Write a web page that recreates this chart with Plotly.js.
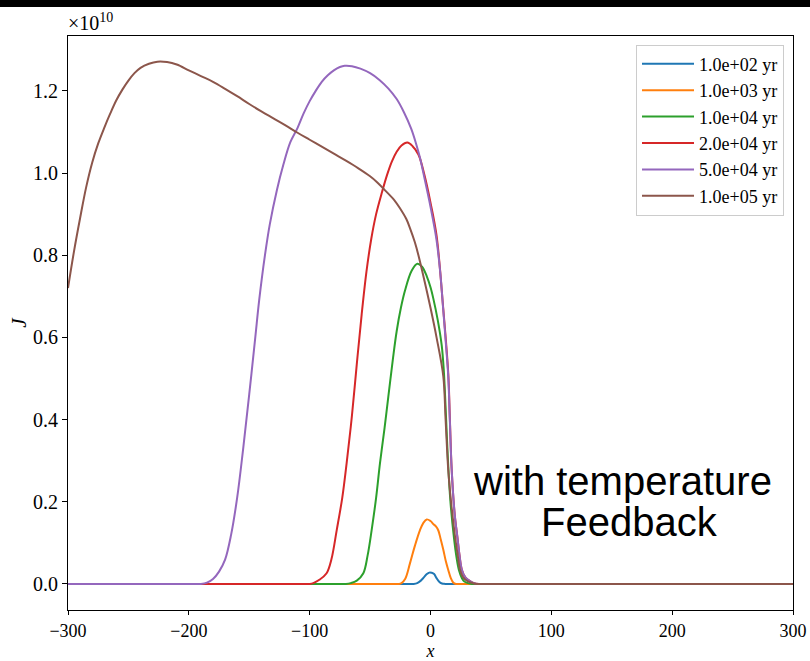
<!DOCTYPE html>
<html>
<head>
<meta charset="utf-8">
<script src="https://cdn.plot.ly/plotly-3.0.1.min.js"></script>
<style>html,body{margin:0;padding:0;background:#fff;}#chart{width:810px;height:661px;}</style>
</head>
<body>
<div id="chart"></div>
<script>
// Series names (legend labels)
const seriesNames = ["1.0e+02 yr", "1.0e+03 yr", "1.0e+04 yr", "2.0e+04 yr", "5.0e+04 yr", "1.0e+05 yr"];
const seriesColors = ["#1f77b4", "#ff7f0e", "#2ca02c", "#d62728", "#9467bd", "#8c564b"];

// J values in units of 1e10
const xBlue = [-300, -100, -30, -14, -11, -8, -5.5, -3, -1, 1, 3, 5, 7, 9.5, 12, 16, 30, 100, 300];
const yBlue = [0, 0, 0, 0, 0.002, 0.008, 0.016, 0.024, 0.0275, 0.027, 0.024, 0.014, 0.006, 0.001, 0, 0, 0, 0, 0];

const xOrange = [-300, -100, -40, -30, -26, -24, -21, -17, -13, -8.7, -6, -3.1, 0, 2.3, 4.5, 6.5, 8.5, 10.6, 12.7, 14.7, 16.8, 18.9, 21, 25, 35, 100, 300];
const yOrange = [0, 0, 0, 0, 0, 0.002, 0.012, 0.05, 0.092, 0.131, 0.148, 0.157, 0.153, 0.146, 0.14, 0.13, 0.108, 0.083, 0.055, 0.034, 0.014, 0.003, 0, 0, 0, 0, 0];

const xGreen = [-300, -150, -85, -75, -70, -66, -61, -55.6, -52, -48.7, -45, -41.8, -38, -34.9, -31, -28, -24.5, -21.1, -15.6, -10.9, -7, -3, 0, 2.3, 6, 9.3, 11, 12.5, 14.3, 16.5, 19.5, 21.5, 23.5, 26, 28, 31, 34, 38, 45, 60, 100, 300];
const yGreen = [0, 0, 0, 0, 0, 0.002, 0.008, 0.026, 0.07, 0.131, 0.21, 0.294, 0.38, 0.456, 0.55, 0.615, 0.672, 0.714, 0.762, 0.779, 0.772, 0.748, 0.722, 0.695, 0.642, 0.58, 0.52, 0.43, 0.31, 0.2, 0.11, 0.065, 0.034, 0.014, 0.006, 0.002, 0, 0, 0, 0, 0, 0];

const xRed = [-300, -200, -120, -105, -100, -97, -92, -86, -82, -77.6, -73, -69.4, -65, -61, -57, -53, -49, -45, -40, -36, -32, -28, -24, -19.2, -15, -10, -5, 0, 5, 10.6, 14.7, 16, 17.5, 20, 22.2, 24, 26, 29, 33, 36, 40, 45, 60, 100, 300];
const yRed = [0, 0, 0, 0, 0, 0.002, 0.01, 0.026, 0.06, 0.131, 0.21, 0.294, 0.41, 0.535, 0.655, 0.76, 0.84, 0.9, 0.955, 0.995, 1.028, 1.052, 1.067, 1.074, 1.066, 1.045, 0.995, 0.928, 0.848, 0.668, 0.512, 0.405, 0.28, 0.17, 0.115, 0.07, 0.034, 0.015, 0.006, 0.002, 0, 0, 0, 0, 0];

const xPurple = [-300, -250, -210, -200, -190, -185, -180, -175, -170, -165, -160, -155, -150, -145, -141.8, -137, -133, -127, -121.8, -116, -110, -105, -100, -95, -90, -85, -80, -75, -71, -65, -58, -50, -42, -35, -28, -22, -16, -12, -8.7, -5.4, 0, 5, 8, 10.6, 13, 14.7, 16, 17.5, 20, 22.2, 24, 26, 29, 33, 36, 40, 45, 60, 100, 300];
const yPurple = [0, 0, 0, 0, 0, 0.003, 0.012, 0.03, 0.059, 0.12, 0.21, 0.33, 0.462, 0.6, 0.69, 0.8, 0.875, 0.96, 1.02, 1.075, 1.11, 1.145, 1.175, 1.2, 1.222, 1.238, 1.25, 1.258, 1.261, 1.26, 1.254, 1.243, 1.226, 1.206, 1.18, 1.148, 1.108, 1.072, 1.037, 0.993, 0.918, 0.837, 0.76, 0.665, 0.575, 0.505, 0.4, 0.28, 0.17, 0.115, 0.07, 0.034, 0.015, 0.006, 0.002, 0, 0, 0, 0, 0];

const xBrown = [-300, -295, -290, -285, -280, -275, -270, -265, -260, -255, -250, -245, -240, -233, -226, -218, -210, -200, -190, -180, -170, -160, -150, -140, -130, -120, -110, -100, -90, -80, -70, -60, -50, -44, -38, -30, -25, -20, -17, -13, -10, -5, 0, 5, 10.6, 12.5, 14.7, 17, 20.3, 22.5, 24.5, 27, 31, 35, 38, 42, 50, 60, 100, 300];
const yBrown = [0.72, 0.81, 0.89, 0.965, 1.025, 1.072, 1.11, 1.145, 1.177, 1.203, 1.225, 1.243, 1.256, 1.266, 1.271, 1.27, 1.264, 1.25, 1.236, 1.222, 1.205, 1.187, 1.168, 1.15, 1.133, 1.116, 1.098, 1.081, 1.064, 1.047, 1.03, 1.012, 0.992, 0.977, 0.959, 0.934, 0.913, 0.888, 0.866, 0.832, 0.8, 0.738, 0.672, 0.6, 0.505, 0.4, 0.277, 0.2, 0.115, 0.07, 0.034, 0.016, 0.006, 0.002, 0, 0, 0, 0, 0, 0];

const xTickVals = [-300, -200, -100, 0, 100, 200, 300];
const xTickText = ["\u2212300", "\u2212200", "\u2212100", "0", "100", "200", "300"];
const yTickVals = [0, 0.2, 0.4, 0.6, 0.8, 1.0, 1.2];
const yTickText = ["0.0", "0.2", "0.4", "0.6", "0.8", "1.0", "1.2"];

const xs = [xBlue, xOrange, xGreen, xRed, xPurple, xBrown];
const ys = [yBlue, yOrange, yGreen, yRed, yPurple, yBrown];

const traces = xs.map((x, i) => ({
  x: x, y: ys[i], type: "scatter", mode: "lines", name: seriesNames[i],
  line: {color: seriesColors[i], width: 2, shape: "spline", smoothing: 1}
}));

const serif = "Liberation Serif, DejaVu Serif, serif";

const layout = {
  width: 810, height: 661,
  margin: {l: 68, r: 17, t: 36, b: 51, pad: 0},
  paper_bgcolor: "#fff", plot_bgcolor: "#fff",
  showlegend: true,
  font: {family: serif, size: 20, color: "#000"},
  xaxis: {
    range: [-300, 300], tickvals: xTickVals, ticktext: xTickText,
    showgrid: false, zeroline: false, showline: true, mirror: true,
    linecolor: "#000", linewidth: 1, ticks: "outside", ticklen: 4, tickcolor: "#000",
    tickfont: {family: serif, size: 18},
    title: {text: "<i>x</i>", font: {family: serif, size: 18}, standoff: 3}
  },
  yaxis: {
    range: [-0.0635, 1.3335], tickvals: yTickVals, ticktext: yTickText,
    showgrid: false, zeroline: false, showline: true, mirror: true,
    linecolor: "#000", linewidth: 1, ticks: "outside", ticklen: 5, tickcolor: "#000",
    tickfont: {family: serif, size: 20},
    title: {text: "<i>J</i>", font: {family: serif, size: 21}, standoff: 0}
  },
  legend: {
    x: 0.9876, y: 0.985, xanchor: "right", yanchor: "top",
    bgcolor: "rgba(255,255,255,0.8)", bordercolor: "#cccccc", borderwidth: 1,
    font: {family: serif, size: 18}, tracegroupgap: 0, itemwidth: 52
  },
  annotations: [
    {xref: "paper", yref: "paper", x: 0, y: 1.0, xanchor: "left", yanchor: "bottom",
     text: "\u00d710<sup>10</sup>", showarrow: false, font: {family: serif, size: 20}, xshift: -2, yshift: 0},
    {xref: "x", yref: "y", x: 158.9, y: 0.2507, xanchor: "center", yanchor: "middle",
     text: "with temperature", showarrow: false,
     font: {family: "Liberation Sans, Arial, sans-serif", size: 40, color: "#000"}},
    {xref: "x", yref: "y", x: 164.3, y: 0.151, xanchor: "center", yanchor: "middle",
     text: "Feedback", showarrow: false,
     font: {family: "Liberation Sans, Arial, sans-serif", size: 40, color: "#000"}}
  ],
  shapes: [
    {type: "rect", xref: "paper", yref: "paper", x0: -0.2, x1: 1.2, y0: 1.0505, y1: 1.2,
     fillcolor: "#000", line: {width: 0}, layer: "above"}
  ]
};

Plotly.newPlot("chart", traces, layout, {displayModeBar: false, staticPlot: true});
</script>
</body>
</html>
